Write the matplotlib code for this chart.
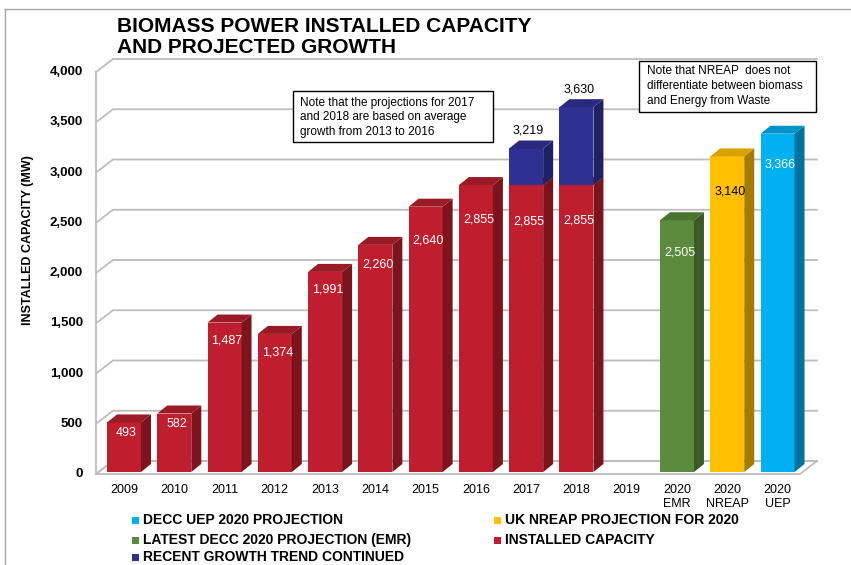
import numpy as np
import matplotlib
matplotlib.use("Agg")
import matplotlib.pyplot as plt
from matplotlib.patches import Polygon, Rectangle
from matplotlib.lines import Line2D

plt.rcParams['font.family'] = ['Liberation Sans', 'DejaVu Sans']

# ---- data ----
categories = ['2009', '2010', '2011', '2012', '2013', '2014', '2015', '2016',
              '2017', '2018', '2019', '2020\nEMR', '2020\nNREAP', '2020\nUEP']
installed = [493, 582, 1487, 1374, 1991, 2260, 2640, 2855, 2855, 2855]
trend_cats = ['2017', '2018']
trend_total = [3219, 3630]
proj_cats = ['2020\nEMR', '2020\nNREAP', '2020\nUEP']
proj_vals = [2505, 3140, 3366]
yticks = [0, 500, 1000, 1500, 2000, 2500, 3000, 3500, 4000]

# how far below the bar top Excel dropped each value label (MW)
inst_drop = [105, 104, 174, 180, 180, 191, 332, 338, 358, 350]
proj_drop = [318, 350, 310]

# colours: front, top, side
RED = ('#BE1E2D', '#9A1A25', '#7D141D')
NAVY = ('#2E3192', '#272A7E', '#1E2166')
GREEN = ('#5B8C3D', '#4A7530', '#3A5A27')
YELLOW = ('#FFC000', '#D9A200', '#A57C00')
CYAN = ('#00B0F0', '#0093CA', '#00729E')
proj_cols = [GREEN, YELLOW, CYAN]
GRID = '#BDBDBD'

# ---- figure in pixel-like scale ----
W, H = 851, 565
fig = plt.figure(figsize=(W / 100, H / 100), dpi=100)
ax = fig.add_axes([0, 0, 1, 1])
PX_CAT = 50.27      # pixels per category
PX_MW = 0.1005      # pixels per MW
X0, Y0 = 124, 472   # pixel of category 0 / value 0
ax.set_xlim(-X0 / PX_CAT, (W - X0) / PX_CAT)
ax.set_ylim((Y0 - H) / PX_MW, Y0 / PX_MW)
ax.axis('off')


def px(x, y):
    # pixel position -> data position (for text and boxes)
    return (x - X0) / PX_CAT, (Y0 - y) / PX_MW


xpos = {c: i for i, c in enumerate(categories)}

# 3d depth
wall_dx, wall_dy = 17 / PX_CAT, 13 / PX_MW
bar_dx, bar_dy = 10 / PX_CAT, 8 / PX_MW
front_off = -20          # front edge of the floor (MW)
xl = px(96, 0)[0]        # front of left wall
xr_front = px(800, 0)[0]
xr_back = px(817, 0)[0]
bw = 34 / PX_CAT

# walls / gridlines
for v in yticks:
    ax.plot([xl, xl + wall_dx, xr_back], [v + front_off, v + front_off + wall_dy, v + front_off + wall_dy],
            color=GRID, lw=1.3, zorder=1, solid_joinstyle='miter')
    ax.text(px(83, 0)[0], v + front_off, f'{v:,}', ha='right', va='center',
            fontsize=9.5, fontweight='bold')
ax.plot([xl, xl], [front_off, yticks[-1] + front_off], color=GRID, lw=1.3, zorder=1)
# floor
floor = Polygon([(xl, front_off), (xr_front, front_off), (xr_back, front_off + wall_dy),
                 (xl + wall_dx, front_off + wall_dy)], closed=True, facecolor='white',
                edgecolor=GRID, lw=1.3, zorder=1)
ax.add_patch(floor)
ax.plot([xl + wall_dx, xr_back], [front_off + wall_dy] * 2, color=GRID, lw=1.3, zorder=1)


def bar3d(x, bottom, h, col, z):
    f, t, s = col
    ax.bar(x, h, bottom=bottom, width=bw, color=f, lw=0, zorder=z)
    r = x + bw / 2
    l = x - bw / 2
    top = bottom + h
    ax.add_patch(Polygon([(r, bottom), (r + bar_dx, bottom + bar_dy), (r + bar_dx, top + bar_dy),
                          (r, top)], closed=True, facecolor=s, lw=0, zorder=z))
    ax.add_patch(Polygon([(l, top), (r, top), (r + bar_dx, top + bar_dy), (l + bar_dx, top + bar_dy)],
                         closed=True, facecolor=t, lw=0, zorder=z))


lab_dx = 0.05
for i, v in enumerate(installed):
    x = i
    bar3d(x, 0, v, RED, 3)
    ax.text(x + lab_dx, v - inst_drop[i], f'{v:,}', ha='center', va='center',
            color='white', fontsize=9)

for c, tot in zip(trend_cats, trend_total):
    x = xpos[c]
    base = installed[x]
    bar3d(x, base, tot - base, NAVY, 4)
    ax.text(x + lab_dx, tot + bar_dy + 95, f'{tot:,}', ha='center', va='center',
            color='black', fontsize=9)

for c, v, col, d in zip(proj_cats, proj_vals, proj_cols, proj_drop):
    x = xpos[c]
    bar3d(x, 0, v, col, 3)
    ax.text(x + lab_dx, v - d, f'{v:,}', ha='center', va='center',
            color='black' if col is YELLOW else 'white', fontsize=9)

# category labels
for c, i in xpos.items():
    ax.text(i, px(0, 484)[1], c, ha='center', va='top', fontsize=9, linespacing=1.2)

# y axis title
ax.text(*px(28, 240), 'INSTALLED CAPACITY (MW)', rotation=90, ha='center', va='center',
        fontsize=9, fontweight='bold')

# title
fig.text(117 / W, 1 - 32 / H, 'BIOMASS POWER INSTALLED CAPACITY', fontsize=15,
         fontweight='bold', va='baseline')
fig.text(117 / W, 1 - 53 / H, 'AND PROJECTED GROWTH', fontsize=15,
         fontweight='bold', va='baseline')

# note boxes
def note(x0, y0, x1, y1, tx, ty, s):
    a = px(x0, y1)
    b = px(x1, y0)
    ax.add_patch(Rectangle(a, b[0] - a[0], b[1] - a[1], facecolor='white',
                           edgecolor='black', lw=1, zorder=6))
    ax.text(*px(tx, ty), s, ha='left', va='center', fontsize=8.5, linespacing=1.3, zorder=7)


note(293, 91, 493, 142, 300, 117.5,
     'Note that the projections for 2017\nand 2018 are based on average\ngrowth from 2013 to 2016')
note(639, 61, 816, 112, 647, 86,
     'Note that NREAP  does not\ndifferentiate between biomass\nand Energy from Waste')

# legend
leg = [(132, 520, CYAN[0], 'DECC UEP 2020 PROJECTION'),
       (132, 540, GREEN[0], 'LATEST DECC 2020 PROJECTION (EMR)'),
       (132, 557, NAVY[0], 'RECENT GROWTH TREND CONTINUED'),
       (494, 520, YELLOW[0], 'UK NREAP PROJECTION FOR 2020'),
       (494, 540, RED[0], 'INSTALLED CAPACITY')]
for lx, ly, col, s in leg:
    a = px(lx, ly + 3.5)
    b = px(lx + 7, ly - 3.5)
    ax.add_patch(Rectangle(a, b[0] - a[0], b[1] - a[1], facecolor=col, lw=0))
    ax.text(*px(lx + 11, ly), s, ha='left', va='center', fontsize=10, fontweight='bold')

# outer frame
fig.add_artist(Line2D([5 / W, 1], [1 - 9 / H] * 2, color='#A6A6A6', lw=1))
fig.add_artist(Line2D([5 / W] * 2, [0, 1 - 9 / H], color='#A6A6A6', lw=1))

fig.savefig('out.png', dpi=100)
